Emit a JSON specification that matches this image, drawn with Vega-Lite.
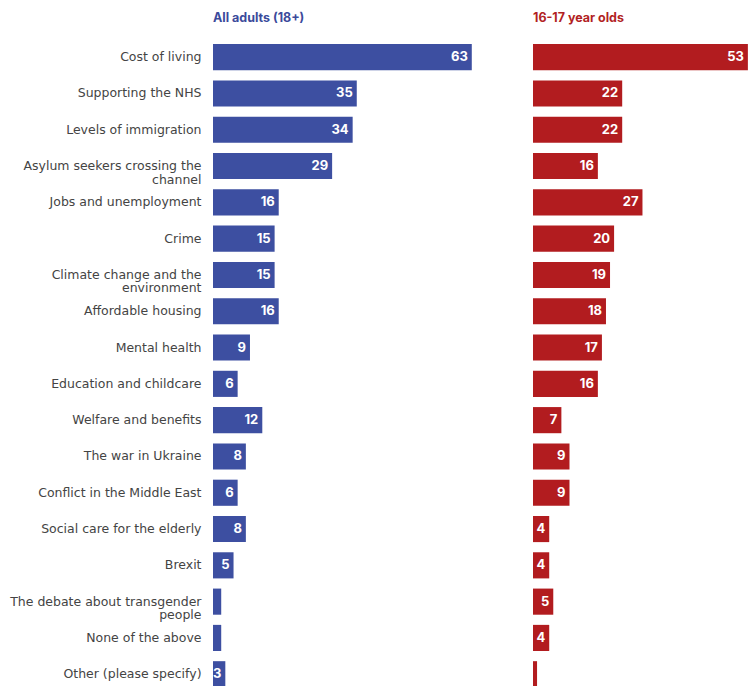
{
  "$schema": "https://vega.github.io/schema/vega-lite/v6.json",
  "padding": {"left": 9, "top": 12, "right": 0, "bottom": 0},
  "config": {"view": {"stroke": null}, "font": "Inter"},
  "data": {"values": [
    {"issue": "Cost of living", "adults": 63, "youth": 53},
    {"issue": "Supporting the NHS", "adults": 35, "youth": 22},
    {"issue": "Levels of immigration", "adults": 34, "youth": 22},
    {"issue": "Asylum seekers crossing the|channel", "adults": 29, "youth": 16},
    {"issue": "Jobs and unemployment", "adults": 16, "youth": 27},
    {"issue": "Crime", "adults": 15, "youth": 20},
    {"issue": "Climate change and the|environment", "adults": 15, "youth": 19},
    {"issue": "Affordable housing", "adults": 16, "youth": 18},
    {"issue": "Mental health", "adults": 9, "youth": 17},
    {"issue": "Education and childcare", "adults": 6, "youth": 16},
    {"issue": "Welfare and benefits", "adults": 12, "youth": 7},
    {"issue": "The war in Ukraine", "adults": 8, "youth": 9},
    {"issue": "Conflict in the Middle East", "adults": 6, "youth": 9},
    {"issue": "Social care for the elderly", "adults": 8, "youth": 4},
    {"issue": "Brexit", "adults": 5, "youth": 4},
    {"issue": "The debate about transgender|people", "adults": 2, "youth": 5},
    {"issue": "None of the above", "adults": 2, "youth": 4},
    {"issue": "Other (please specify)", "adults": 3, "youth": 1}
  ]},
  "spacing": 53,
  "hconcat": [
    {
      "width": 267,
      "height": 653.4,
      "title": {"text": "All adults (18+)", "anchor": "start", "frame": "group", "color": "#3b4a9b", "fontSize": 12.5, "fontWeight": "bold", "offset": 14},
      "encoding": {
        "y": {"field": "issue", "type": "nominal", "sort": null,
          "scale": {"paddingInner": 0.28, "paddingOuter": 0.14},
          "axis": {"title": null, "domain": false, "ticks": false, "labelPadding": 12, "labelFont": "DejaVu Sans", "labelFontSize": 12.5, "labelColor": "#444444", "labelLimit": 300, "labelLineHeight": 13.5, "labelExpr": "split(datum.label, '|')"}}
      },
      "layer": [
        {"mark": {"type": "bar", "color": "#3d4fa1"},
         "encoding": {"x": {"field": "adults", "type": "quantitative", "scale": {"domain": [0, 63]}, "axis": null}}},
        {"mark": {"type": "text", "align": "right", "dx": -4, "color": "white", "fontWeight": "bold", "fontSize": 13},
         "encoding": {"x": {"field": "adults", "type": "quantitative"},
           "text": {"condition": {"test": "datum.adults >= 3", "field": "adults", "type": "quantitative"}, "value": ""}}}
      ]
    },
    {
      "width": 223,
      "height": 653.4,
      "title": {"text": "16-17 year olds", "anchor": "start", "frame": "group", "color": "#b21f24", "fontSize": 12.5, "fontWeight": "bold", "offset": 14},
      "encoding": {
        "y": {"field": "issue", "type": "nominal", "sort": null,
          "scale": {"paddingInner": 0.28, "paddingOuter": 0.14}, "axis": null}
      },
      "layer": [
        {"mark": {"type": "bar", "color": "#b21c1f"},
         "encoding": {"x": {"field": "youth", "type": "quantitative", "scale": {"domain": [0, 53]}, "axis": null}}},
        {"mark": {"type": "text", "align": "right", "dx": -4, "color": "white", "fontWeight": "bold", "fontSize": 13},
         "encoding": {"x": {"field": "youth", "type": "quantitative"},
           "text": {"condition": {"test": "datum.youth >= 3", "field": "youth", "type": "quantitative"}, "value": ""}}}
      ]
    }
  ]
}
